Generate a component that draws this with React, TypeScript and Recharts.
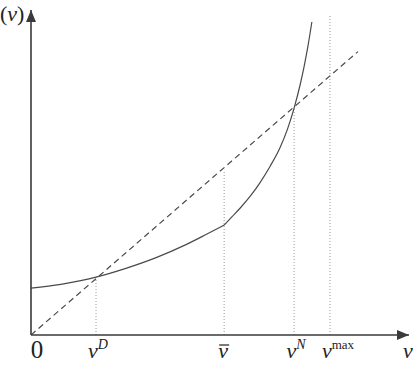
import { ComposedChart, Line, XAxis, YAxis, ReferenceLine, ReferenceDot } from "recharts";

// schematic units: x and y both run 0..100
const vD = 17.2;
const vBar = 51.1;
const vN = 69.6;
const vMax = 79.1;

// cost curve, split at the kink (v-bar)
const lowX = [0, 7.9, 17.2, 25.1, 33.1, 41.0, 46.3, 51.1];
const lowY = [14.4, 15.6, 17.8, 20.5, 23.8, 27.8, 30.9, 33.8];
const highX = [51.1, 53.2, 55.3, 58.0, 60.6, 63.3, 65.9, 67.9, 69.6, 71.2, 72.3, 73.3, 74.3];
const highY = [33.8, 36.4, 39.0, 42.7, 46.9, 52.0, 57.7, 63.5, 69.8, 77.0, 82.9, 89.1, 96.3];

// 45-degree reference line
const diagX = [0, 86.5];
const diagY = [0, 87.2];

// dotted guides: foot x and top y
const guideX = [vD, vBar, vN, vMax];
const guideTop = [17.8, 50.8, 69.8, 98.5];

const tickValues = [0, vD, vBar, vN, vMax, 100];
const tickBase = ["0", "v", "v", "v", "v", "v"];
const tickSup = ["", "D", "", "N", "max", ""];

const low = lowX.map((x, i) => ({ x, y: lowY[i] }));
const high = highX.map((x, i) => ({ x, y: highY[i] }));
const diag = diagX.map((x, i) => ({ x, y: diagY[i] }));

const ink = "#3a3a3a";
const serif = { fontFamily: "Liberation Serif, DejaVu Serif, serif" };
const AXIS_Y = 335;

// eslint-disable-next-line @typescript-eslint/no-explicit-any
function AxisTick({ x, index }: any) {
  const base = tickBase[index];
  const sup = tickSup[index];
  const y = AXIS_Y;
  if (base === "0") {
    return (
      <text x={x + 6} y={y + 23} textAnchor="middle" style={serif} fontSize={25} fill="#222">
        0
      </text>
    );
  }
  const dx = sup === "max" ? 8 : sup ? 2 : -1;
  return (
    <g>
      <text x={x + dx} y={y + 23} textAnchor="middle" style={serif} fontSize={22} fill="#222">
        <tspan fontStyle="italic">{base}</tspan>
        {sup && (
          <tspan
            dy={-9}
            fontSize={sup === "max" ? 13 : 14}
            fontStyle={sup === "max" ? "normal" : "italic"}
          >
            {sup}
          </tspan>
        )}
      </text>
      {index === 2 && <line x1={x - 5} x2={x + 5} y1={y + 10} y2={y + 10} stroke="#222" strokeWidth={1.2} />}
    </g>
  );
}

// eslint-disable-next-line @typescript-eslint/no-explicit-any
function ArrowRight({ cx, cy }: any) {
  return <path d={`M${cx},${cy} L${cx - 12},${cy - 5} L${cx - 12},${cy + 5} Z`} fill={ink} />;
}

// eslint-disable-next-line @typescript-eslint/no-explicit-any
function ArrowUp({ cx, cy }: any) {
  return (
    <g>
      <path d={`M${cx},${cy} L${cx - 5},${cy + 12} L${cx + 5},${cy + 12} Z`} fill={ink} />
      <text x={0} y={21} style={serif} fontSize={22} fill="#222">
        (<tspan fontStyle="italic">v</tspan>)
      </text>
    </g>
  );
}

export default function App() {
  return (
    <div style={{ position: "absolute", left: 0, top: 0, width: 420, height: 379, background: "#fff" }}>
      <ComposedChart width={420} height={379} margin={{ top: 10, right: 11, left: 0, bottom: 0 }}>
        <XAxis
          type="number"
          dataKey="x"
          domain={[0, 100]}
          ticks={tickValues}
          tick={<AxisTick />}
          tickLine={false}
          height={44}
          interval={0}
          axisLine={{ stroke: ink, strokeWidth: 1.6 }}
          allowDataOverflow
        />
        <YAxis
          type="number"
          dataKey="y"
          domain={[0, 100]}
          width={31}
          tick={false}
          tickLine={false}
          axisLine={{ stroke: ink, strokeWidth: 1.6 }}
          allowDataOverflow
        />
        {guideX.map((gx, i) => (
          <ReferenceLine
            key={i}
            segment={[
              { x: gx, y: 0 },
              { x: gx, y: guideTop[i] },
            ]}
            stroke="#999"
            strokeWidth={1}
            strokeDasharray="1 2"
            ifOverflow="visible"
          />
        ))}
        <Line
          data={diag}
          dataKey="y"
          type="linear"
          stroke="#4a4a4a"
          strokeWidth={1.2}
          strokeDasharray="6 4"
          dot={false}
          isAnimationActive={false}
        />
        <Line
          data={low}
          dataKey="y"
          type="monotone"
          stroke="#4a4a4a"
          strokeWidth={1.2}
          dot={false}
          isAnimationActive={false}
        />
        <Line
          data={high}
          dataKey="y"
          type="monotone"
          stroke="#4a4a4a"
          strokeWidth={1.2}
          dot={false}
          isAnimationActive={false}
        />
        <ReferenceDot x={100} y={0} r={0} shape={<ArrowRight />} ifOverflow="visible" />
        <ReferenceDot x={0} y={100} r={0} shape={<ArrowUp />} ifOverflow="visible" />
      </ComposedChart>
    </div>
  );
}
